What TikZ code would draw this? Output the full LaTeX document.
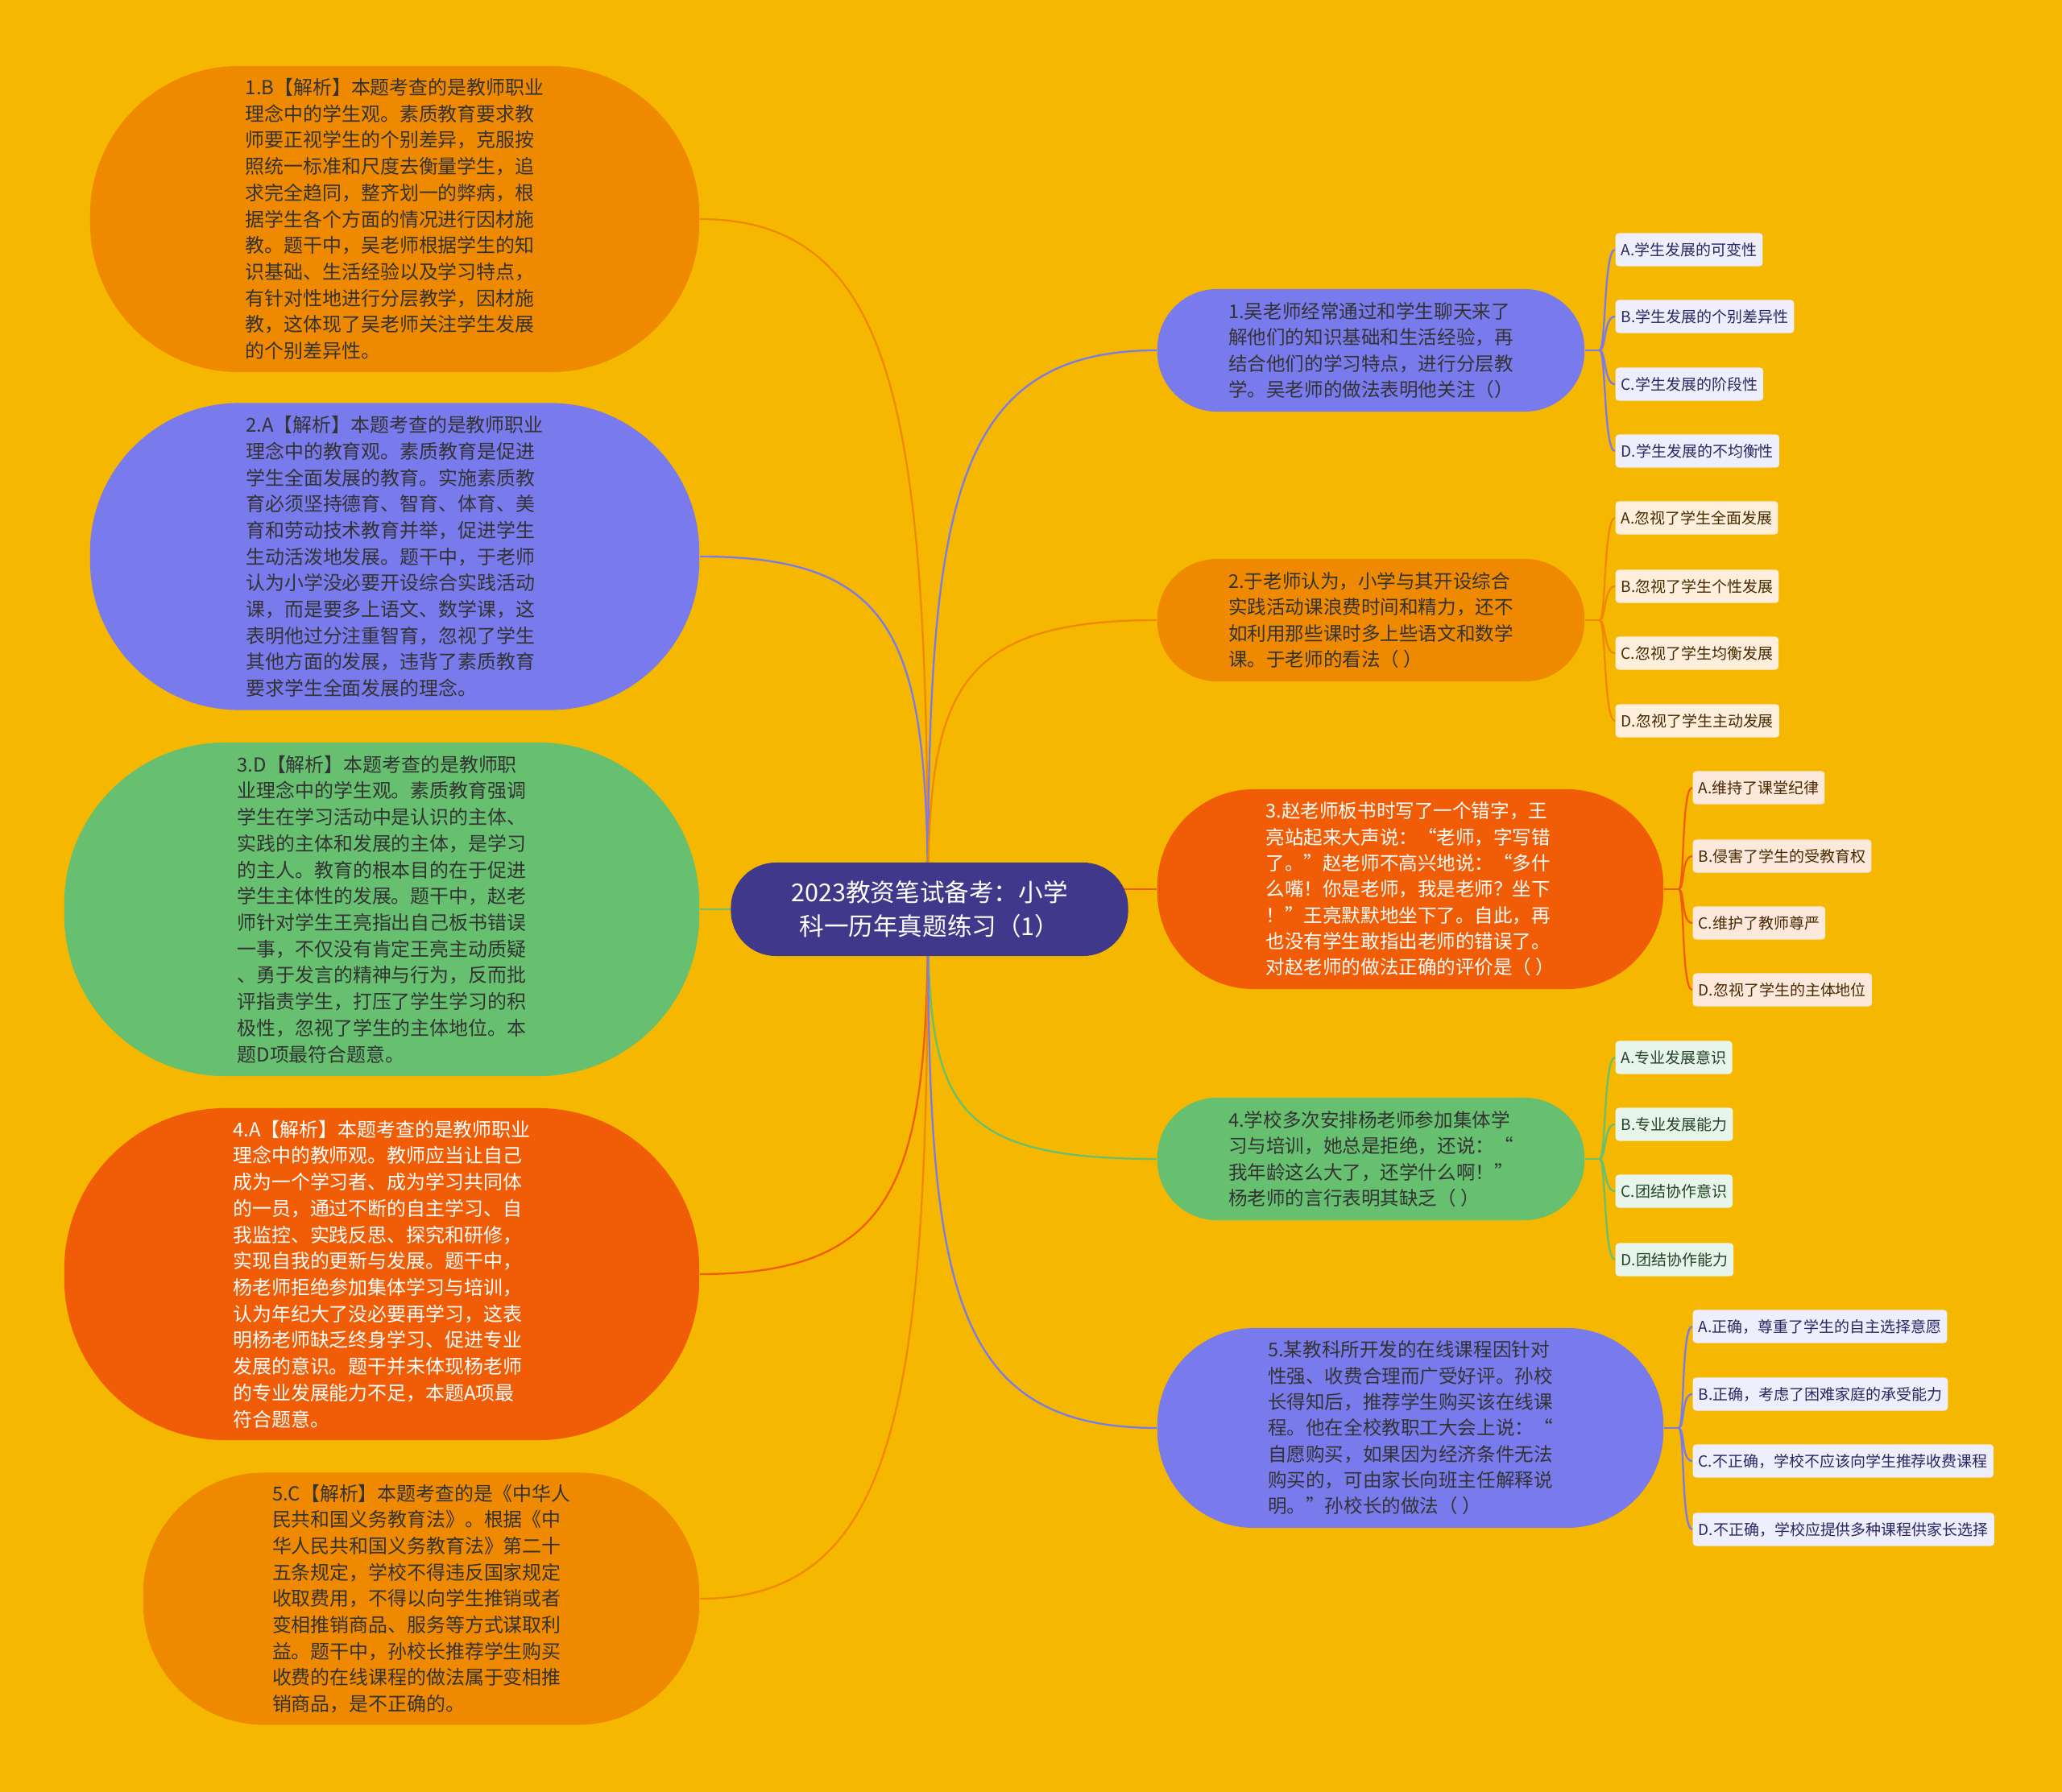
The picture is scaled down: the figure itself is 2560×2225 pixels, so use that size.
\documentclass[tikz,border=0pt]{standalone}
\usepackage{fontspec}
\setmainfont{Noto Sans CJK SC}
\usetikzlibrary{backgrounds}
\definecolor{bgGold}{RGB}{245,183,0}
\definecolor{nodeOrange}{RGB}{239,138,0}
\definecolor{nodeViolet}{RGB}{121,122,236}
\definecolor{nodeGreen}{RGB}{103,191,112}
\definecolor{nodeRed}{RGB}{241,92,6}
\definecolor{rootIndigo}{RGB}{63,56,139}
\colorlet{optViolet}{nodeViolet!13!white}
\colorlet{optOrange}{nodeOrange!14!white}
\colorlet{optRed}{nodeRed!14!white}
\colorlet{optGreen}{nodeGreen!15!white}
\colorlet{InkDark}{black!80}
\colorlet{InkViolet}{rootIndigo!70!black}
\colorlet{InkBrown}{nodeOrange!30!black}
\colorlet{InkGreen}{nodeGreen!35!black}

\begin{document}
\begin{tikzpicture}[
    x=0.01cm,y=-0.01cm,
    answer/.style={align=left,inner sep=0pt,font=\fontsize{6.8}{9.3}\selectfont,text=InkDark},
    question/.style={align=left,inner sep=0pt,font=\fontsize{6.7}{9.2}\selectfont,text=InkDark},
    choice/.style={anchor=west,rounded corners=0.04cm,minimum height=0.41cm,inner xsep=0.07cm,inner ysep=0pt,font=\fontsize{5.4}{6}\selectfont},
    link/.style={line width=0.65pt}
  ]
    \useasboundingbox (0,0) rectangle (2560,2225);

    % root
    \node[fill=rootIndigo,text=white,align=center,rounded corners=0.56cm,minimum width=4.93cm,minimum height=1.16cm,font=\fontsize{8.7}{12.2}\selectfont] (root) at (1154,1129) {2023教资笔试备考：小学\\科一历年真题练习（1）};
    \coordinate (hub) at (1152,1129);

    % answers, left
    \node[answer,fill=nodeOrange,minimum width=7.56cm,minimum height=3.80cm,rounded corners=1.85cm] (a1) at (490,272) {1.B【解析】本题考查的是教师职业\\理念中的学生观。素质教育要求教\\师要正视学生的个别差异，克服按\\照统一标准和尺度去衡量学生，追\\求完全趋同，整齐划一的弊病，根\\据学生各个方面的情况进行因材施\\教。题干中，吴老师根据学生的知\\识基础、生活经验以及学习特点，\\有针对性地进行分层教学，因材施\\教，这体现了吴老师关注学生发展\\的个别差异性。};
    \node[answer,fill=nodeViolet,minimum width=7.56cm,minimum height=3.81cm,rounded corners=1.85cm] (a2) at (490,691) {2.A【解析】本题考查的是教师职业\\理念中的教育观。素质教育是促进\\学生全面发展的教育。实施素质教\\育必须坚持德育、智育、体育、美\\育和劳动技术教育并举，促进学生\\生动活泼地发展。题干中，于老师\\认为小学没必要开设综合实践活动\\课，而是要多上语文、数学课，这\\表明他过分注重智育，忽视了学生\\其他方面的发展，违背了素质教育\\要求学生全面发展的理念。};
    \node[answer,fill=nodeGreen,minimum width=7.88cm,minimum height=4.14cm,rounded corners=2.0cm] (a3) at (474,1129) {3.D【解析】本题考查的是教师职\\业理念中的学生观。素质教育强调\\学生在学习活动中是认识的主体、\\实践的主体和发展的主体，是学习\\的主人。教育的根本目的在于促进\\学生主体性的发展。题干中，赵老\\师针对学生王亮指出自己板书错误\\一事，不仅没有肯定王亮主动质疑\\、勇于发言的精神与行为，反而批\\评指责学生，打压了学生学习的积\\极性，忽视了学生的主体地位。本\\题D项最符合题意。};
    \node[answer,fill=nodeRed,text=white,minimum width=7.88cm,minimum height=4.12cm,rounded corners=2.0cm] (a4) at (474,1582) {4.A【解析】本题考查的是教师职业\\理念中的教师观。教师应当让自己\\成为一个学习者、成为学习共同体\\的一员，通过不断的自主学习、自\\我监控、实践反思、探究和研修，\\实现自我的更新与发展。题干中，\\杨老师拒绝参加集体学习与培训，\\认为年纪大了没必要再学习，这表\\明杨老师缺乏终身学习、促进专业\\发展的意识。题干并未体现杨老师\\的专业发展能力不足，本题A项最\\符合题意。};
    \node[answer,fill=nodeOrange,minimum width=6.90cm,minimum height=3.13cm,rounded corners=1.5cm] (a5) at (523,1985) {5.C【解析】本题考查的是《中华人\\民共和国义务教育法》。根据《中\\华人民共和国义务教育法》第二十\\五条规定，学校不得违反国家规定\\收取费用，不得以向学生推销或者\\变相推销商品、服务等方式谋取利\\益。题干中，孙校长推荐学生购买\\收费的在线课程的做法属于变相推\\销商品，是不正确的。};

    % questions, right
    \node[question,fill=nodeViolet,minimum width=5.30cm,minimum height=1.52cm,rounded corners=0.74cm] (q1) at (1702,435) {1.吴老师经常通过和学生聊天来了\\解他们的知识基础和生活经验，再\\结合他们的学习特点，进行分层教\\学。吴老师的做法表明他关注（）};
    \node[question,fill=nodeOrange,minimum width=5.30cm,minimum height=1.52cm,rounded corners=0.74cm] (q2) at (1702,770) {2.于老师认为，小学与其开设综合\\实践活动课浪费时间和精力，还不\\如利用那些课时多上些语文和数学\\课。于老师的看法（ ）};
    \node[question,fill=nodeRed,text=white,minimum width=6.28cm,minimum height=2.48cm,rounded corners=1.2cm] (q3) at (1751,1104) {3.赵老师板书时写了一个错字，王\\亮站起来大声说：“老师，字写错\\了。”赵老师不高兴地说：“多什\\么嘴！你是老师，我是老师？坐下\\！”王亮默默地坐下了。自此，再\\也没有学生敢指出老师的错误了。\\对赵老师的做法正确的评价是（ ）};
    \node[question,fill=nodeGreen,minimum width=5.30cm,minimum height=1.52cm,rounded corners=0.74cm] (q4) at (1702,1439) {4.学校多次安排杨老师参加集体学\\习与培训，她总是拒绝，还说：“\\我年龄这么大了，还学什么啊！”\\杨老师的言行表明其缺乏（ ）};
    \node[question,fill=nodeViolet,minimum width=6.28cm,minimum height=2.48cm,rounded corners=1.2cm] (q5) at (1751,1773) {5.某教科所开发的在线课程因针对\\性强、收费合理而广受好评。孙校\\长得知后，推荐学生购买该在线课\\程。他在全校教职工大会上说：“\\自愿购买，如果因为经济条件无法\\购买的，可由家长向班主任解释说\\明。”孙校长的做法（ ）};

    % choices
    \node[choice,fill=optViolet,text=InkViolet] (q1a) at (2005,310) {A.学生发展的可变性};
    \node[choice,fill=optViolet,text=InkViolet] (q1b) at (2005,393) {B.学生发展的个别差异性};
    \node[choice,fill=optViolet,text=InkViolet] (q1c) at (2005,477) {C.学生发展的阶段性};
    \node[choice,fill=optViolet,text=InkViolet] (q1d) at (2005,560) {D.学生发展的不均衡性};

    \node[choice,fill=optOrange,text=InkBrown] (q2a) at (2005,643) {A.忽视了学生全面发展};
    \node[choice,fill=optOrange,text=InkBrown] (q2b) at (2005,728) {B.忽视了学生个性发展};
    \node[choice,fill=optOrange,text=InkBrown] (q2c) at (2005,811) {C.忽视了学生均衡发展};
    \node[choice,fill=optOrange,text=InkBrown] (q2d) at (2005,895) {D.忽视了学生主动发展};

    \node[choice,fill=optRed,text=InkBrown] (q3a) at (2101,978) {A.维持了课堂纪律};
    \node[choice,fill=optRed,text=InkBrown] (q3b) at (2101,1063) {B.侵害了学生的受教育权};
    \node[choice,fill=optRed,text=InkBrown] (q3c) at (2101,1146) {C.维护了教师尊严};
    \node[choice,fill=optRed,text=InkBrown] (q3d) at (2101,1229) {D.忽视了学生的主体地位};

    \node[choice,fill=optGreen,text=InkGreen] (q4a) at (2005,1313) {A.专业发展意识};
    \node[choice,fill=optGreen,text=InkGreen] (q4b) at (2005,1396) {B.专业发展能力};
    \node[choice,fill=optGreen,text=InkGreen] (q4c) at (2005,1479) {C.团结协作意识};
    \node[choice,fill=optGreen,text=InkGreen] (q4d) at (2005,1564) {D.团结协作能力};

    \node[choice,fill=optViolet,text=InkViolet] (q5a) at (2101,1647) {A.正确，尊重了学生的自主选择意愿};
    \node[choice,fill=optViolet,text=InkViolet] (q5b) at (2101,1731) {B.正确，考虑了困难家庭的承受能力};
    \node[choice,fill=optViolet,text=InkViolet] (q5c) at (2101,1814) {C.不正确，学校不应该向学生推荐收费课程};
    \node[choice,fill=optViolet,text=InkViolet] (q5d) at (2101,1899) {D.不正确，学校应提供多种课程供家长选择};

    \begin{scope}[on background layer]
      \fill[bgGold] (0,0) rectangle (2560,2225);
      % root to answers
      \draw[link,nodeOrange] (hub) .. controls +(0,-600) and +(250,0) .. (a1.east);
      \draw[link,nodeViolet] (hub) .. controls +(0,-330) and +(250,0) .. (a2.east);
      \draw[link,nodeGreen] (hub) -- (a3.east);
      \draw[link,nodeRed] (hub) .. controls +(0,330) and +(250,0) .. (a4.east);
      \draw[link,nodeOrange] (hub) .. controls +(0,600) and +(250,0) .. (a5.east);
      % root to questions
      \draw[link,nodeViolet] (hub) .. controls +(0,-490) and +(-260,0) .. (q1.west);
      \draw[link,nodeOrange] (hub) .. controls +(0,-260) and +(-260,0) .. (q2.west);
      \draw[link,nodeRed] (q3.west -| hub) -- (q3.west);
      \draw[link,nodeGreen] (hub) .. controls +(0,240) and +(-260,0) .. (q4.west);
      \draw[link,nodeViolet] (hub) .. controls +(0,460) and +(-260,0) .. (q5.west);
      % questions to choices
      \draw[link,nodeViolet] (q1.east) -- ++(18,0) coordinate (j1);
      \draw[link,nodeViolet] (j1) .. controls +(8,0) and +(-14,0) .. (q1a.west);
      \draw[link,nodeViolet] (j1) .. controls +(8,0) and +(-14,0) .. (q1b.west);
      \draw[link,nodeViolet] (j1) .. controls +(8,0) and +(-14,0) .. (q1c.west);
      \draw[link,nodeViolet] (j1) .. controls +(8,0) and +(-14,0) .. (q1d.west);
      \draw[link,nodeOrange] (q2.east) -- ++(18,0) coordinate (j2);
      \draw[link,nodeOrange] (j2) .. controls +(8,0) and +(-14,0) .. (q2a.west);
      \draw[link,nodeOrange] (j2) .. controls +(8,0) and +(-14,0) .. (q2b.west);
      \draw[link,nodeOrange] (j2) .. controls +(8,0) and +(-14,0) .. (q2c.west);
      \draw[link,nodeOrange] (j2) .. controls +(8,0) and +(-14,0) .. (q2d.west);
      \draw[link,nodeRed] (q3.east) -- ++(18,0) coordinate (j3);
      \draw[link,nodeRed] (j3) .. controls +(8,0) and +(-14,0) .. (q3a.west);
      \draw[link,nodeRed] (j3) .. controls +(8,0) and +(-14,0) .. (q3b.west);
      \draw[link,nodeRed] (j3) .. controls +(8,0) and +(-14,0) .. (q3c.west);
      \draw[link,nodeRed] (j3) .. controls +(8,0) and +(-14,0) .. (q3d.west);
      \draw[link,nodeGreen] (q4.east) -- ++(18,0) coordinate (j4);
      \draw[link,nodeGreen] (j4) .. controls +(8,0) and +(-14,0) .. (q4a.west);
      \draw[link,nodeGreen] (j4) .. controls +(8,0) and +(-14,0) .. (q4b.west);
      \draw[link,nodeGreen] (j4) .. controls +(8,0) and +(-14,0) .. (q4c.west);
      \draw[link,nodeGreen] (j4) .. controls +(8,0) and +(-14,0) .. (q4d.west);
      \draw[link,nodeViolet] (q5.east) -- ++(18,0) coordinate (j5);
      \draw[link,nodeViolet] (j5) .. controls +(8,0) and +(-14,0) .. (q5a.west);
      \draw[link,nodeViolet] (j5) .. controls +(8,0) and +(-14,0) .. (q5b.west);
      \draw[link,nodeViolet] (j5) .. controls +(8,0) and +(-14,0) .. (q5c.west);
      \draw[link,nodeViolet] (j5) .. controls +(8,0) and +(-14,0) .. (q5d.west);
    \end{scope}
  \end{tikzpicture}
\end{document}
